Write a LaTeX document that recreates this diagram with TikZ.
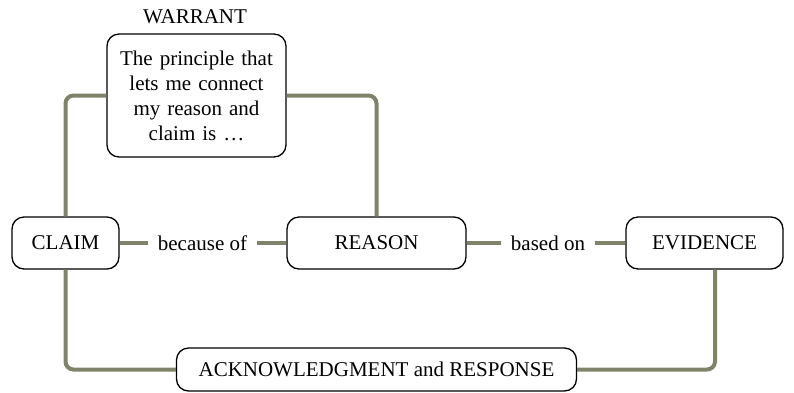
\documentclass[tikz,border=0pt]{standalone}
\usepackage{fontspec}
\setmainfont{Liberation Serif}
\begin{document}
\begin{tikzpicture}[x=1pt,y=-1pt,
  box/.style={draw=black, line width=1.3pt, rounded corners=12pt, fill=white, align=center, inner sep=0pt, font=\fontsize{21}{25}\selectfont},
  conn/.style={draw=linkcol, line width=4pt, rounded corners=8pt},
  lbl/.style={inner sep=0pt, font=\fontsize{21}{25}\selectfont}]
\definecolor{linkcol}{HTML}{80826A}
\useasboundingbox (0,0) rectangle (794,392);
\node[box, minimum width=179pt, minimum height=123pt, text width=170pt] (warrant) at (196.5,95.5) {The principle that\\lets me connect\\my reason and\\claim is \dots};
\node[lbl] (wlabel) at (195,17) {WARRANT};
\node[box, minimum width=107pt, minimum height=52pt] (claim) at (65.5,243) {CLAIM};
\node[box, minimum width=179pt, minimum height=52pt] (reason) at (376.5,243) {REASON};
\node[box, minimum width=157pt, minimum height=52pt] (evidence) at (704.5,243) {EVIDENCE};
\node[box, minimum width=400pt, minimum height=43pt] (ack) at (376.5,369.5) {ACKNOWLEDGMENT and RESPONSE};
\node[lbl, inner xsep=10pt] (because) at (202.5,243) {because of};
\node[lbl, inner xsep=10pt] (based) at (548,243) {based on};
\draw[conn] (claim.east) -- (because.west);
\draw[conn] (because.east) -- (reason.west);
\draw[conn] (reason.east) -- (based.west);
\draw[conn] (based.east) -- (evidence.west);
\draw[conn] (warrant.west) -| (claim.north);
\draw[conn] (warrant.east) -| (reason.north);
\draw[conn] (claim.south) |- (ack.west);
\coordinate (evb) at ([xshift=10.5pt]evidence.south);
\draw[conn] (evb) |- (ack.east);
\end{tikzpicture}
\end{document}
